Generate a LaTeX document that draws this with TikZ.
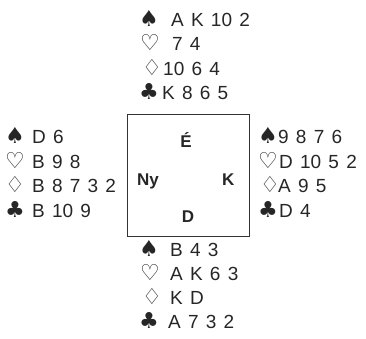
\documentclass[tikz,border=0pt]{standalone}
\usepackage{fontspec}
\setmainfont{Liberation Sans}
\newfontfamily\suitfont{DejaVu Sans}
\newcommand{\handfnt}{\fontsize{19}{21}\selectfont\spaceskip=0.38em plus 0pt minus 0pt\relax}
\tikzset{
  x=1pt,y=-1pt,
  hand/.style={anchor=base west,inner sep=0pt,font=\handfnt,text=black!85},
  suit/.style={anchor=base,inner sep=0pt,font=\suitfont\fontsize{22}{24}\selectfont,text=black!85},
  seat/.style={anchor=base,inner sep=0pt,font=\bfseries\fontsize{17}{20}\selectfont,text=black!85},
  boxline/.style={draw=black!80,line width=0.9pt}
}
\begin{document}
\begin{tikzpicture}
\useasboundingbox (0,0) rectangle (366,338);
% table
\coordinate (tl) at (127,114);
\coordinate (br) at (249,236);
\draw[boxline] (tl) rectangle (br);
\node[seat] (nE) at (186,147) {É};
\node[seat,anchor=base west] (nW) at (137,185) {Ny};
\node[seat,anchor=base west] (nK) at (222,185) {K};
\node[seat] (nD) at (188,222) {D};
% North
\node[suit] (ns) at (149,26) {♠};
\node[hand] (nst) at (171,26) {A K 10 2};
\node[suit] (nh) at (150,50) {♡};
\node[hand] (nht) at (172,50) {7 4};
\node[suit] (nd) at (152,75) {♢};
\node[hand] (ndt) at (163,75) {10 6 4};
\node[suit] (nc) at (149,99) {♣};
\node[hand] (nct) at (162,99) {K 8 6 5};
% West
\node[suit] (ws) at (15,143.5) {♠};
\node[hand] (wst) at (32,143.5) {D 6};
\node[suit] (wh) at (15,168) {♡};
\node[hand] (wht) at (32,168) {B 9 8};
\node[suit] (wd) at (15,192.5) {♢};
\node[hand] (wdt) at (32,192.5) {B 8 7 3 2};
\node[suit] (wc) at (15,217) {♣};
\node[hand] (wct) at (32,217) {B 10 9};
% East
\node[suit] (es) at (268,143.5) {♠};
\node[hand] (est) at (278,143.5) {9 8 7 6};
\node[suit] (eh) at (268,168) {♡};
\node[hand] (eht) at (279,168) {D 10 5 2};
\node[suit] (ed) at (270,192.5) {♢};
\node[hand] (edt) at (278,192.5) {A 9 5};
\node[suit] (ec) at (268,217) {♣};
\node[hand] (ect) at (279,217) {D 4};
% South
\node[suit] (ss) at (149,256) {♠};
\node[hand] (sst) at (170,256) {B 4 3};
\node[suit] (sh) at (150,280) {♡};
\node[hand] (sht) at (170,280) {A K 6 3};
\node[suit] (sd) at (152,304) {♢};
\node[hand] (sdt) at (170,304) {K D};
\node[suit] (sc) at (149,328) {♣};
\node[hand] (sct) at (168,328) {A 7 3 2};
\end{tikzpicture}
\end{document}
